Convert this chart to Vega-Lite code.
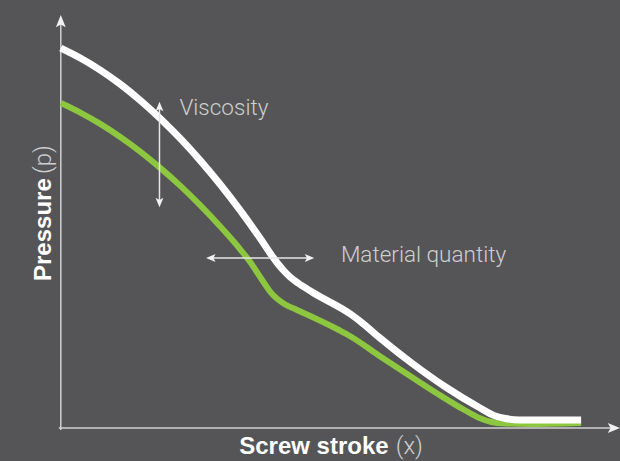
{
  "$schema": "https://vega.github.io/schema/vega-lite/v6.json",
  "width": 620,
  "height": 461,
  "autosize": {"type": "fit", "contains": "padding"},
  "padding": 0,
  "background": "#555558",
  "config": {"view": {"stroke": null}},
  "datasets": {
    "curves": [
      {"series": "green", "x": 0, "y": 325},
      {"series": "green", "x": 20, "y": 315.2},
      {"series": "green", "x": 40, "y": 303.9},
      {"series": "green", "x": 60, "y": 290.8},
      {"series": "green", "x": 80, "y": 276.2},
      {"series": "green", "x": 100, "y": 259.9},
      {"series": "green", "x": 120, "y": 242.1},
      {"series": "green", "x": 140, "y": 222.6},
      {"series": "green", "x": 160, "y": 201.5},
      {"series": "green", "x": 180, "y": 178.7},
      {"series": "green", "x": 190, "y": 166},
      {"series": "green", "x": 202, "y": 148},
      {"series": "green", "x": 212, "y": 134},
      {"series": "green", "x": 218, "y": 128.5},
      {"series": "green", "x": 226, "y": 123},
      {"series": "green", "x": 236, "y": 118.5},
      {"series": "green", "x": 279, "y": 98},
      {"series": "green", "x": 290, "y": 92},
      {"series": "green", "x": 319, "y": 72.6},
      {"series": "green", "x": 352, "y": 51},
      {"series": "green", "x": 380, "y": 33},
      {"series": "green", "x": 405, "y": 18},
      {"series": "green", "x": 420, "y": 10},
      {"series": "green", "x": 432, "y": 6},
      {"series": "green", "x": 446, "y": 4.5},
      {"series": "green", "x": 469, "y": 4},
      {"series": "green", "x": 522, "y": 5},
      {"series": "white", "x": 0, "y": 380},
      {"series": "white", "x": 20, "y": 369.8},
      {"series": "white", "x": 40, "y": 357.7},
      {"series": "white", "x": 60, "y": 343.6},
      {"series": "white", "x": 80, "y": 327.4},
      {"series": "white", "x": 100, "y": 309.3},
      {"series": "white", "x": 120, "y": 289.3},
      {"series": "white", "x": 140, "y": 267.4},
      {"series": "white", "x": 160, "y": 243.5},
      {"series": "white", "x": 180, "y": 217.6},
      {"series": "white", "x": 200, "y": 189.7},
      {"series": "white", "x": 212, "y": 172},
      {"series": "white", "x": 218, "y": 164},
      {"series": "white", "x": 224, "y": 157},
      {"series": "white", "x": 230, "y": 151},
      {"series": "white", "x": 238, "y": 145},
      {"series": "white", "x": 252, "y": 136},
      {"series": "white", "x": 292, "y": 113},
      {"series": "white", "x": 300, "y": 107},
      {"series": "white", "x": 319, "y": 91},
      {"series": "white", "x": 352, "y": 65},
      {"series": "white", "x": 386, "y": 41},
      {"series": "white", "x": 419, "y": 21},
      {"series": "white", "x": 436, "y": 12},
      {"series": "white", "x": 446, "y": 9.5},
      {"series": "white", "x": 460, "y": 8},
      {"series": "white", "x": 522, "y": 8}
    ],
    "axisRules": [
      {"x": 0, "y": -2, "x2": 0, "y2": 406},
      {"x": -2, "y": 0, "x2": 554, "y2": 0}
    ],
    "annoRules": [
      {"x": 99, "y": 321, "x2": 99, "y2": 226},
      {"x": 151, "y": 170, "x2": 249, "y2": 170}
    ],
    "bigHeads": [
      {"x": 0, "y": 406, "angle": 0},
      {"x": 554, "y": 0, "angle": 90}
    ],
    "smallHeads": [
      {"x": 99, "y": 321, "angle": 0},
      {"x": 99, "y": 226, "angle": 180},
      {"x": 151, "y": 170, "angle": 270},
      {"x": 249, "y": 170, "angle": 90}
    ]
  },
  "layer": [
    {
      "data": {"name": "axisRules"},
      "mark": {"type": "rule", "color": "#d0d0d0", "strokeWidth": 1.5},
      "encoding": {
        "x": {"field": "x", "type": "quantitative", "scale": {"domain": [-61, 559], "nice": false, "zero": false}, "axis": null},
        "y": {"field": "y", "type": "quantitative", "scale": {"domain": [-33, 428], "nice": false, "zero": false}, "axis": null},
        "x2": {"field": "x2"},
        "y2": {"field": "y2"}
      }
    },
    {
      "data": {"name": "bigHeads"},
      "mark": {"type": "point", "shape": "M0,-1L0.7,0.75L0,0.35L-0.7,0.75Z", "filled": true, "color": "#f2f2f2", "opacity": 1, "size": 196},
      "encoding": {
        "x": {"field": "x", "type": "quantitative"},
        "y": {"field": "y", "type": "quantitative"},
        "angle": {"field": "angle", "type": "quantitative", "scale": null}
      }
    },
    {
      "data": {"name": "curves"},
      "transform": [{"filter": "datum.series === 'green'"}],
      "mark": {"type": "line", "color": "#8dc63f", "strokeWidth": 6, "strokeCap": "butt", "strokeJoin": "round", "interpolate": "monotone"},
      "encoding": {
        "x": {"field": "x", "type": "quantitative"},
        "y": {"field": "y", "type": "quantitative"}
      }
    },
    {
      "data": {"name": "curves"},
      "transform": [{"filter": "datum.series === 'white'"}],
      "mark": {"type": "line", "color": "#ffffff", "strokeWidth": 7, "strokeCap": "butt", "strokeJoin": "round", "interpolate": "monotone"},
      "encoding": {
        "x": {"field": "x", "type": "quantitative"},
        "y": {"field": "y", "type": "quantitative"}
      }
    },
    {
      "data": {"name": "annoRules"},
      "mark": {"type": "rule", "color": "#e6e6e6", "strokeWidth": 1.5},
      "encoding": {
        "x": {"field": "x", "type": "quantitative"},
        "y": {"field": "y", "type": "quantitative"},
        "x2": {"field": "x2"},
        "y2": {"field": "y2"}
      }
    },
    {
      "data": {"name": "smallHeads"},
      "mark": {"type": "point", "shape": "M0,-1L0.75,0.8L0,0.4L-0.75,0.8Z", "filled": true, "color": "#f2f2f2", "opacity": 1, "size": 110},
      "encoding": {
        "x": {"field": "x", "type": "quantitative"},
        "y": {"field": "y", "type": "quantitative"},
        "angle": {"field": "angle", "type": "quantitative", "scale": null}
      }
    },
    {
      "data": {"values": [
        {"label": "Viscosity", "x": 119, "y": 320},
        {"label": "Material quantity", "x": 281, "y": 173}
      ]},
      "mark": {"type": "text", "align": "left", "baseline": "middle", "font": "Roboto", "fontWeight": 300, "fontSize": 22.5, "color": "#cfcfcf"},
      "encoding": {
        "x": {"field": "x", "type": "quantitative"},
        "y": {"field": "y", "type": "quantitative"},
        "text": {"field": "label"}
      }
    },
    {
      "data": {"values": [
        {"label": "Screw stroke", "x": 179, "y": -19, "angle": 0},
        {"label": "Pressure", "x": -17, "y": 147, "angle": 270}
      ]},
      "mark": {"type": "text", "align": "left", "baseline": "middle", "font": "Liberation Sans", "fontWeight": "bold", "fontSize": 24, "color": "#ffffff"},
      "encoding": {
        "x": {"field": "x", "type": "quantitative"},
        "y": {"field": "y", "type": "quantitative"},
        "text": {"field": "label"},
        "angle": {"field": "angle", "type": "quantitative", "scale": null}
      }
    },
    {
      "data": {"values": [
        {"label": "(x)", "x": 336, "y": -19, "angle": 0},
        {"label": "(p)", "x": -17, "y": 254, "angle": 270}
      ]},
      "mark": {"type": "text", "align": "left", "baseline": "middle", "font": "Roboto", "fontWeight": 300, "fontSize": 24, "color": "#cfcfcf"},
      "encoding": {
        "x": {"field": "x", "type": "quantitative"},
        "y": {"field": "y", "type": "quantitative"},
        "text": {"field": "label"},
        "angle": {"field": "angle", "type": "quantitative", "scale": null}
      }
    }
  ]
}
